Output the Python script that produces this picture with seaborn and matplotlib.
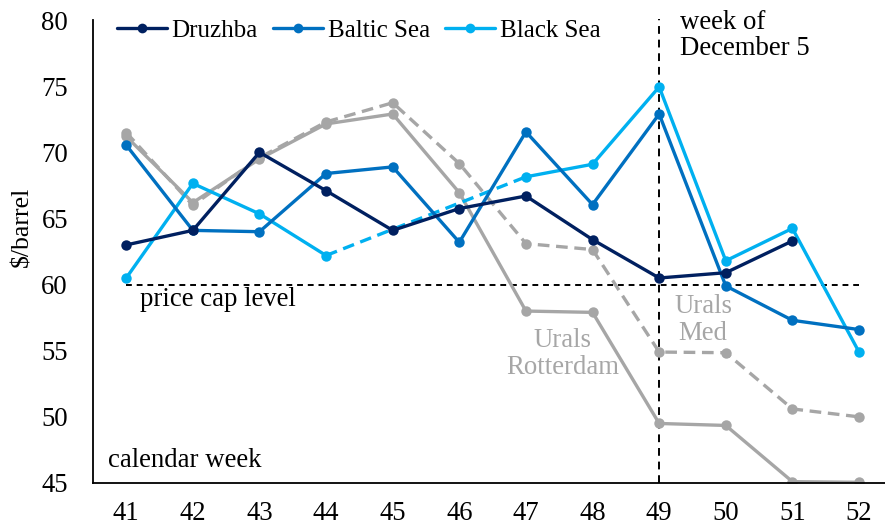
import numpy as np
import pandas as pd
import matplotlib
matplotlib.use("Agg")
import matplotlib.pyplot as plt
import seaborn as sns
from matplotlib.lines import Line2D

weeks = [41, 42, 43, 44, 45, 46, 47, 48, 49, 50, 51, 52]
druzhba = [63.0, 64.1, 70.0, 67.1, 64.1, 65.75, 66.7, 63.4, 60.5, 60.9, 63.3, np.nan]
baltic = [70.55, 64.1, 64.0, 68.4, 68.9, 63.2, 71.55, 66.05, 72.9, 59.9, 57.3, 56.6]
black = [60.5, 67.65, 65.35, 62.2, np.nan, np.nan, 68.15, 69.1, 74.95, 61.8, 64.25, 54.9]
urals_rott = [71.2, 66.2, 69.5, 72.15, 72.9, 66.95, 58.0, 57.9, 49.5, 49.35, 45.1, 45.05]
urals_med = [71.5, 66.0, 69.6, 72.3, 73.75, 69.15, 63.1, 62.65, 54.9, 54.85, 50.6, 50.0]
price_cap = 60
week_dec5 = 49

C_DRU = "#002060"
C_BAL = "#0070C0"
C_BLK = "#00B0F0"
C_GRY = "#A6A6A6"

sns.set_theme(style="white")
plt.rcParams["font.family"] = ["Liberation Serif", "DejaVu Serif"]
FS = 19.3
FS_LEG = 18

fig = plt.figure(figsize=(8.85, 5.29), dpi=100)
ax = fig.add_axes([0.105, 0.087, 0.895, 0.875])

df = pd.DataFrame({"week": weeks, "Druzhba": druzhba, "Baltic Sea": baltic,
                   "Black Sea": black, "Urals Rotterdam": urals_rott,
                   "Urals Med": urals_med})

lw = 2.4
ms = 7.5

# Urals series (grey)
sns.lineplot(data=df, x="week", y="Urals Med", ax=ax, color=C_GRY, lw=lw,
             linestyle=(0, (3.5, 2)), marker="o", markersize=ms, markeredgewidth=0,
             zorder=2)
sns.lineplot(data=df, x="week", y="Urals Rotterdam", ax=ax, color=C_GRY, lw=lw,
             marker="o", markersize=ms, markeredgewidth=0, zorder=2)

# Black Sea: two solid segments and dashed gap bridge
blk = df[["week", "Black Sea"]]
seg1 = blk[blk["week"] <= 44]
seg2 = blk[blk["week"] >= 47]
gap = blk[blk["week"].isin([44, 47])]
sns.lineplot(data=gap, x="week", y="Black Sea", ax=ax, color=C_BLK, lw=lw,
             linestyle=(0, (3.5, 2)), zorder=3)
sns.lineplot(data=seg1, x="week", y="Black Sea", ax=ax, color=C_BLK, lw=lw,
             marker="o", markersize=ms, markeredgewidth=0, zorder=3)
sns.lineplot(data=seg2, x="week", y="Black Sea", ax=ax, color=C_BLK, lw=lw,
             marker="o", markersize=ms, markeredgewidth=0, zorder=3)

sns.lineplot(data=df, x="week", y="Baltic Sea", ax=ax, color=C_BAL, lw=lw,
             marker="o", markersize=ms, markeredgewidth=0, zorder=4)
sns.lineplot(data=df, x="week", y="Druzhba", ax=ax, color=C_DRU, lw=lw,
             marker="o", markersize=ms, markeredgewidth=0, zorder=5)

# Reference lines
ax.plot([weeks[0], weeks[-1]], [price_cap, price_cap], color="black", lw=1.4,
        linestyle=(0, (3, 2.5)), zorder=1)
ax.plot([week_dec5, week_dec5], [45, 80.1], color="black", lw=1.4,
        linestyle=(0, (4, 3)), zorder=1, clip_on=False)

ax.set_xlim(40.5, 52.39)
ax.set_ylim(45, 80)
ax.set_xticks(weeks)
ax.set_xticklabels([str(w) for w in weeks])
ax.set_yticks(np.arange(45, 81, 5))
ax.tick_params(axis="both", labelsize=FS, length=0, labelcolor="black")
ax.tick_params(axis="x", pad=13)
ax.tick_params(axis="y", pad=18)
ax.set_xlabel("")
ax.set_ylabel("$/barrel", fontsize=18.5, color="black")
ax.yaxis.set_label_coords(-0.0758, 0.553)
for s in ["top", "right"]:
    ax.spines[s].set_visible(False)
for s in ["left", "bottom"]:
    ax.spines[s].set_color("black")
    ax.spines[s].set_linewidth(1.3)

# Legend
handles = [Line2D([], [], color=c, lw=lw, marker="o", markersize=7, markeredgewidth=0)
           for c in [C_DRU, C_BAL, C_BLK]]
ax.legend(handles, ["Druzhba", "Baltic Sea", "Black Sea"], ncol=3, frameon=False,
          loc="center left", bbox_to_anchor=(0.030, 0.978), fontsize=FS_LEG,
          handlelength=2.0, handletextpad=0.2, columnspacing=0.6,
          borderaxespad=0.0, borderpad=0.0, labelcolor="black")

# Annotations
ax.text(49.32, 80.75, "week of\nDecember 5", fontsize=FS, ha="left", va="top",
        linespacing=1.03, color="black")
ax.text(41.2, 58.9, "price cap level", fontsize=FS, ha="left", va="center",
        color="black")
ax.text(47.55, 56.7, "Urals\nRotterdam", fontsize=FS, ha="center", va="top",
        color=C_GRY, linespacing=1.1)
ax.text(49.66, 59.3, "Urals\nMed", fontsize=FS, ha="center", va="top",
        color=C_GRY, linespacing=1.1)
ax.text(40.73, 46.7, "calendar week", fontsize=FS, ha="left", va="center",
        color="black")

fig.savefig("out.png", dpi=100)
